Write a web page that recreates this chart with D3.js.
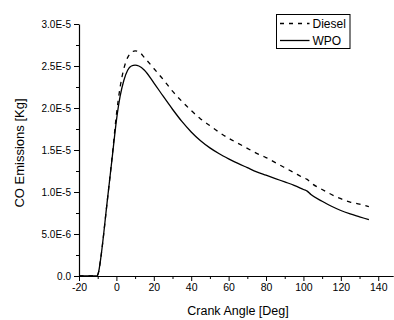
<!DOCTYPE html>
<html>
<head>
<meta charset="utf-8">
<script src="https://cdn.jsdelivr.net/npm/d3@7"></script>
<style>
  html, body { margin: 0; padding: 0; background: #fff; }
  svg { display: block; font-family: "Liberation Sans", Arial, sans-serif; }
</style>
</head>
<body>
<svg id="chart" width="394" height="320"></svg>
<script>
// Data
const crankAngle = [-20, -10.5, -9.5, -8.5, -5, -2, 0, 2, 4, 6, 8, 10, 12, 15, 20, 25, 30, 35, 40, 45, 50, 55, 60, 65, 70, 75, 80, 85, 90, 95, 100, 102, 104, 110, 115, 120, 125, 130, 135];
const dieselCO = [0, 0, 0.5e-6, 1.9e-6, 8.7e-6, 1.48e-5, 1.92e-5, 2.25e-5, 2.47e-5, 2.6e-5, 2.66e-5, 2.68e-5, 2.67e-5, 2.6e-5, 2.47e-5, 2.34e-5, 2.2e-5, 2.08e-5, 1.97e-5, 1.87e-5, 1.79e-5, 1.71e-5, 1.64e-5, 1.58e-5, 1.52e-5, 1.46e-5, 1.41e-5, 1.35e-5, 1.29e-5, 1.23e-5, 1.17e-5, 1.15e-5, 1.11e-5, 1.03e-5, 0.97e-5, 0.92e-5, 0.88e-5, 0.855e-5, 0.825e-5];
const wpoCO = [0, 0, 0.5e-6, 1.9e-6, 8.7e-6, 1.46e-5, 1.85e-5, 2.14e-5, 2.33e-5, 2.45e-5, 2.5e-5, 2.51e-5, 2.5e-5, 2.45e-5, 2.3e-5, 2.14e-5, 1.985e-5, 1.84e-5, 1.715e-5, 1.61e-5, 1.525e-5, 1.455e-5, 1.395e-5, 1.34e-5, 1.29e-5, 1.24e-5, 1.2e-5, 1.16e-5, 1.12e-5, 1.08e-5, 1.03e-5, 1.01e-5, 0.97e-5, 0.89e-5, 0.83e-5, 0.78e-5, 0.74e-5, 0.705e-5, 0.67e-5];
const seriesNames = ["Diesel", "WPO"];
const xTickValues = [-20, 0, 20, 40, 60, 80, 100, 120, 140];
const xTickLabels = ["-20", "0", "20", "40", "60", "80", "100", "120", "140"];
const xMinorTicks = [-10, 10, 30, 50, 70, 90, 110, 130];
const yTickValues = [0, 5e-6, 1e-5, 1.5e-5, 2e-5, 2.5e-5, 3e-5];
const yTickLabels = ["0.0", "5.0E-6", "1.0E-5", "1.5E-5", "2.0E-5", "2.5E-5", "3.0E-5"];
const yMinorTicks = [2.5e-6, 7.5e-6, 1.25e-5, 1.75e-5, 2.25e-5, 2.75e-5];

const svg = d3.select("#chart");
const x = d3.scaleLinear().domain([-20, 148]).range([79, 393.2]);
const y = d3.scaleLinear().domain([0, 3e-5]).range([276, 24]);

// X axis
const gx = svg.append("g").attr("transform", `translate(0,${y(0)})`);
gx.call(d3.axisBottom(x).tickValues(xTickValues).tickSize(5).tickSizeOuter(0).tickPadding(3)
  .tickFormat((d, i) => xTickLabels[i]));
gx.append("g").call(d3.axisBottom(x).tickValues(xMinorTicks).tickSize(3).tickSizeOuter(0).tickFormat(""))
  .select(".domain").remove();
gx.selectAll("text").attr("font-size", 10.5).attr("font-family", "Liberation Sans, Arial, sans-serif").attr("fill", "#000");

// Y axis
const gy = svg.append("g").attr("transform", `translate(${x(-20)},0)`);
gy.call(d3.axisLeft(y).tickValues(yTickValues).tickSize(5).tickSizeOuter(0).tickPadding(3)
  .tickFormat((d, i) => yTickLabels[i]));
gy.append("g").call(d3.axisLeft(y).tickValues(yMinorTicks).tickSize(3).tickSizeOuter(0).tickFormat(""))
  .select(".domain").remove();
gy.selectAll("text").attr("font-size", 10).attr("font-family", "Liberation Sans, Arial, sans-serif").attr("fill", "#000");

svg.selectAll(".domain").attr("stroke", "#000").attr("stroke-width", 1.2);
svg.selectAll(".tick line").attr("stroke", "#000").attr("stroke-width", 1);

// Lines
const line = d3.line().x(d => x(d[0])).y(d => y(d[1])).curve(d3.curveMonotoneX);
const dieselData = crankAngle.map((a, i) => [a, dieselCO[i]]);
const wpoData = crankAngle.map((a, i) => [a, wpoCO[i]]);

svg.append("path").datum(wpoData).attr("d", line)
  .attr("fill", "none").attr("stroke", "#000").attr("stroke-width", 1.3);
svg.append("path").datum(dieselData).attr("d", line)
  .attr("fill", "none").attr("stroke", "#000").attr("stroke-width", 1.3)
  .attr("stroke-dasharray", "4.5,5");

// Axis titles
svg.append("text").attr("x", 238).attr("y", 315).attr("text-anchor", "middle")
  .attr("font-size", 12.5).attr("fill", "#000").text("Crank Angle [Deg]");
svg.append("text").attr("transform", "translate(24,153) rotate(-90)")
  .attr("text-anchor", "middle").attr("font-size", 13).attr("fill", "#000").text("CO Emissions [Kg]");

// Legend
const lg = svg.append("g");
lg.append("rect").attr("x", 276.5).attr("y", 14.5).attr("width", 73.5).attr("height", 34)
  .attr("fill", "#fff").attr("stroke", "#000").attr("stroke-width", 1);
const legendY = [23.5, 40.5];
seriesNames.forEach((name, i) => {
  lg.append("line").attr("x1", 280).attr("x2", 309.5).attr("y1", legendY[i]).attr("y2", legendY[i])
    .attr("stroke", "#000").attr("stroke-width", 1.3)
    .attr("stroke-dasharray", i === 0 ? "4,5" : null);
  lg.append("text").attr("x", 312.5).attr("y", legendY[i]).attr("dy", "0.36em")
    .attr("font-size", 12).attr("fill", "#000").text(name);
});
</script>
</body>
</html>
